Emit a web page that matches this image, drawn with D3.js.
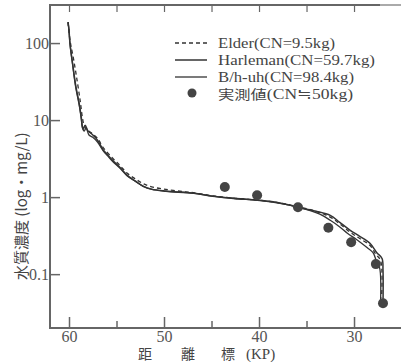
<!DOCTYPE html>
<html><head><meta charset="utf-8">
<script src="https://cdn.jsdelivr.net/npm/d3@7"></script>
<style>body{margin:0;background:#fff}svg{display:block}</style>
</head><body>
<script>
// ---- data ----
const xTicks = [60, 50, 40, 30];
const xMinorTicks = [55, 45, 35];
const yTicks = [100, 10, 1, 0.1];
const yTickLabels = ["100", "10", "1", "0.1"];

const elderKm  = [60.1, 59.9, 59.5, 59.1, 58.8, 58.6, 58.4, 58.1, 57.7, 57.0, 56.4, 55.4, 54.6, 53.9, 53.0, 52.2, 51.3, 49.8, 48.0, 46.9, 44.9, 42.7, 39.9, 37.8, 35.9, 34.1, 32.5, 31.5, 30.4, 29.4, 28.3, 27.7, 27.2, 27.1];
const elderVal = [187, 110, 60, 30, 17, 11, 8.5, 7.5, 6.9, 5.8, 4.4, 3.2, 2.55, 2.05, 1.72, 1.5, 1.36, 1.26, 1.18, 1.14, 1.04, 0.97, 0.91, 0.84, 0.75, 0.66, 0.55, 0.45, 0.35, 0.29, 0.235, 0.18, 0.15, 0.05];

const harlemanKm  = [60.1, 60.0, 59.9, 59.6, 59.3, 58.9, 58.7, 58.6, 58.5, 58.3, 58.0, 57.6, 57.0, 56.4, 55.9, 55.4, 54.6, 53.9, 53.0, 52.2, 51.3, 49.8, 46.9, 44.9, 42.7, 39.9, 37.8, 35.9, 34.1, 32.5, 31.5, 30.4, 29.4, 28.3, 27.6, 27.05, 26.95, 26.95];
const harlemanVal = [187, 147, 100, 52, 28.5, 15.7, 10.6, 8.4, 7.6, 8.6, 7.2, 6.6, 5.5, 4.1, 3.5, 3.0, 2.4, 1.93, 1.61, 1.39, 1.27, 1.2, 1.13, 1.03, 0.97, 0.91, 0.84, 0.74, 0.66, 0.58, 0.47, 0.37, 0.31, 0.25, 0.19, 0.16, 0.113, 0.04];

const bhuhKm  = [60.1, 60.0, 59.9, 59.6, 59.3, 58.9, 58.7, 58.6, 58.4, 58.2, 57.9, 57.5, 57.0, 56.4, 55.9, 55.4, 54.6, 53.9, 53.0, 52.2, 51.3, 49.8, 46.9, 44.9, 42.7, 39.9, 37.8, 35.9, 33.6, 32.5, 31.5, 30.7, 29.7, 28.6, 28.0, 27.6, 27.3, 27.2];
const bhuhVal = [187, 145, 98, 50, 27, 15, 10.2, 8.0, 7.2, 7.9, 6.4, 6.0, 5.2, 4.0, 3.4, 2.9, 2.35, 1.9, 1.6, 1.38, 1.26, 1.19, 1.12, 1.03, 0.96, 0.9, 0.83, 0.74, 0.6, 0.5, 0.41, 0.34, 0.28, 0.22, 0.19, 0.143, 0.12, 0.046];

const obsKm  = [43.6, 40.2, 35.9, 32.7, 30.3, 27.7, 26.95];
const obsVal = [1.35, 1.06, 0.74, 0.40, 0.26, 0.135, 0.042];

const legendLabels = ["Elder(CN=9.5kg)", "Harleman(CN=59.7kg)", "B/h-uh(CN=98.4kg)", "実測値(CN≒50kg)"];

// ---- drawing ----
const W = 401, H = 362;
const svg = d3.select("body").append("svg").attr("width", W).attr("height", H);
const L = 50, R = 402, T = 5, B = 328;
const x = d3.scaleLinear().domain([62, 24.95]).range([L, R]);
const y = d3.scaleLog().domain([0.02, 312]).range([B, T]);

const axisCol = "#666", lineCol = "#333";
const serif = "'Liberation Serif','Times New Roman',serif";
const cjk = "'Noto Sans CJK JP','Noto Sans CJK TC',sans-serif";

// frame
svg.append("line").attr("x1", L).attr("x2", L).attr("y1", T).attr("y2", B).attr("stroke", axisCol).attr("stroke-width", 2);
svg.append("line").attr("x1", L - 1).attr("x2", W).attr("y1", B).attr("y2", B).attr("stroke", axisCol).attr("stroke-width", 2);
svg.append("line").attr("x1", L - 1).attr("x2", 380).attr("y1", T).attr("y2", T).attr("stroke", axisCol).attr("stroke-width", 2);
svg.append("line").attr("x1", 380).attr("x2", W).attr("y1", T).attr("y2", T).attr("stroke", "#aaa").attr("stroke-width", 2);

// bottom axis (inward ticks)
const allX = xTicks.concat(xMinorTicks);
const xAxis = d3.axisBottom(x).tickValues(allX).tickSizeInner(-11).tickSizeOuter(0)
  .tickFormat(d => xTicks.includes(d) ? d : "");
const gx = svg.append("g").attr("transform", `translate(0,${B})`).call(xAxis);
gx.select(".domain").remove();
gx.selectAll(".tick line").attr("stroke", axisCol).attr("stroke-width", 1.5)
  .attr("y2", d => xTicks.includes(d) ? -11 : -7);
gx.selectAll(".tick text").attr("y", 14).attr("dy", 0)
  .attr("font-family", serif).attr("font-size", 16).attr("fill", "#555");

// top ticks
const gt = svg.append("g").attr("transform", `translate(0,${T})`)
  .call(d3.axisTop(x).tickValues(allX).tickSizeInner(-7).tickSizeOuter(0).tickFormat(""));
gt.select(".domain").remove();
gt.selectAll(".tick line").attr("stroke", axisCol).attr("stroke-width", 1.2);

// left axis
const yAxis = d3.axisLeft(y).tickValues(yTicks).tickSizeInner(-10).tickSizeOuter(0)
  .tickFormat((d, i) => yTickLabels[i]);
const gy = svg.append("g").attr("transform", `translate(${L},0)`).call(yAxis);
gy.select(".domain").remove();
gy.selectAll(".tick line").attr("stroke", axisCol).attr("stroke-width", 1.5);
gy.selectAll(".tick text").attr("x", -1).attr("font-family", serif).attr("font-size", 16).attr("fill", "#555");

// lines
const line = d3.line().x(d => x(d[0])).y(d => y(d[1])).curve(d3.curveCatmullRom.alpha(0.5));
const zip = (a, b) => a.map((v, i) => [v, b[i]]);
const series = [
  {k: elderKm, v: elderVal, dash: "4,3", w: 1.3},
  {k: harlemanKm, v: harlemanVal, dash: null, w: 1.5},
  {k: bhuhKm, v: bhuhVal, dash: null, w: 1.3}
];
series.forEach(s => {
  svg.append("path").datum(zip(s.k, s.v)).attr("d", line)
    .attr("fill", "none").attr("stroke", lineCol).attr("stroke-width", s.w)
    .attr("stroke-dasharray", s.dash).attr("stroke-linejoin", "round");
});

// observed points
svg.selectAll("circle.obs").data(zip(obsKm, obsVal)).join("circle").attr("class", "obs")
  .attr("cx", d => x(d[0])).attr("cy", d => y(d[1])).attr("r", 5).attr("fill", "#444");

// legend
const lg = svg.append("g");
const rowY = [43, 60, 77, 94];
const rowW = [117, 157, 136, 135];
legendLabels.forEach((t, i) => {
  if (i < 3) {
    lg.append("line").attr("x1", 175).attr("x2", 207).attr("y1", rowY[i]).attr("y2", rowY[i])
      .attr("stroke", lineCol).attr("stroke-width", series[i].w).attr("stroke-dasharray", series[i].dash);
  } else {
    lg.append("circle").attr("cx", 192).attr("cy", rowY[i] - 1).attr("r", 4.5).attr("fill", "#444");
  }
  const tx = lg.append("text").attr("x", 218).attr("y", rowY[i] + 5)
    .attr("font-size", 14).attr("fill", "#444").attr("font-family", serif)
    .attr("textLength", rowW[i]).attr("lengthAdjust", "spacingAndGlyphs");
  if (i === 3) {
    tx.append("tspan").attr("font-family", cjk).attr("font-size", 13).text("実測値");
    tx.append("tspan").text("(CN≒50kg)");
  } else tx.text(t);
});

// x label
const xl = svg.append("text").attr("y", 359).attr("font-size", 14).attr("fill", "#444").attr("font-family", cjk);
xl.append("tspan").attr("x", 138).text("距");
xl.append("tspan").attr("x", 181).text("離");
xl.append("tspan").attr("x", 221).text("標");
xl.append("tspan").attr("x", 246).attr("font-family", serif).attr("font-size", 15).text("(KP)");

// y label
svg.append("text").attr("transform", "translate(27,280) rotate(-90)").attr("text-anchor", "start")
  .attr("font-size", 15).attr("fill", "#444").attr("font-family", cjk)
  .text("水質濃度 (log・mg/L)");
</script>
</body></html>
